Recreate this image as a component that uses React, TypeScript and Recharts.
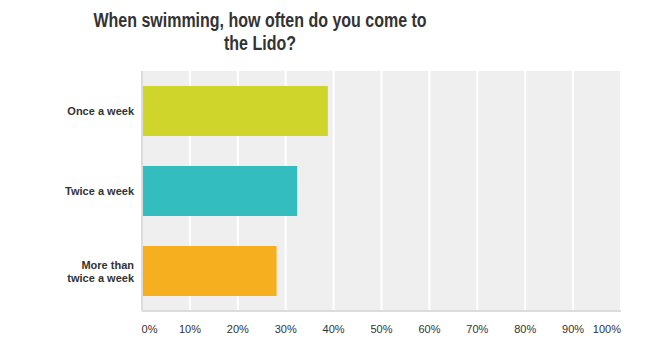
import React from "react"
import { Bar, BarChart, CartesianGrid, Cell, XAxis, YAxis } from "recharts"

const categories = ["Once a week", "Twice a week", "More than\ntwice a week"]
const percentages = [38.8, 32.4, 28.1]
const barColors = ["#cfd52a", "#33bdbe", "#f6b01f"]
const xTicks = [0, 10, 20, 30, 40, 50, 60, 70, 80, 90, 100]

const data = categories.map((name, i) => ({ name, value: percentages[i] }))

const FONT = '"Liberation Sans", Arial, Helvetica, sans-serif'

function XTick({ x, y, payload }: any) {
  const v = payload.value
  const anchor = v === 0 ? "start" : v === 100 ? "end" : "middle"
  const dx = v === 0 ? -0.5 : 0
  return (
    <text x={x + dx} y={y + 14} textAnchor={anchor} fontSize={11} fill="#333" fontFamily={FONT}>
      {v}%
    </text>
  )
}

function YTick({ x, y, payload }: any) {
  const lines = String(payload.value).split("\n")
  const lh = 13
  const start = y + 4 - ((lines.length - 1) * lh) / 2
  return (
    <text x={x} y={start} textAnchor="end" fontSize={11} fontWeight="bold" fill="#333" fontFamily={FONT}>
      {lines.map((l, i) => (
        <tspan key={i} x={x} y={start + i * lh}>
          {l}
        </tspan>
      ))}
    </text>
  )
}

export default function App() {
  return (
    <div style={{ position: "absolute", left: 0, top: 0, width: 650, height: 351, background: "#fff" }}>
      <div
        style={{
          position: "absolute",
          left: 0,
          top: 9,
          width: 520,
          textAlign: "center",
          fontFamily: FONT,
          fontWeight: "bold",
          fontSize: 19.5,
          lineHeight: "23px",
          color: "#333",
          transform: "scaleX(0.82)",
          transformOrigin: "center",
        }}
      >
        When swimming, how often do you come to
        <br />
        the Lido?
      </div>
      <BarChart
        width={650}
        height={351}
        data={data}
        layout="vertical"
        margin={{ top: 71, right: 29, bottom: 0, left: 0 }}
        barCategoryGap={15}
      >
        <CartesianGrid horizontal={false} stroke="#ffffff" strokeWidth={2} fill="#efefef" />
        <XAxis
          type="number"
          domain={[0, 100]}
          ticks={xTicks}
          height={40}
          tickLine={false}
          axisLine={{ stroke: "#dcdcdc", strokeWidth: 2 }}
          tick={<XTick />}
          interval={0}
        />
        <YAxis
          type="category"
          dataKey="name"
          width={142}
          tickLine={false}
          axisLine={{ stroke: "#dcdcdc", strokeWidth: 2 }}
          tick={<YTick />}
          interval={0}
        />
        <Bar dataKey="value" isAnimationActive={false}>
          {data.map((d, i) => (
            <Cell key={d.name} fill={barColors[i]} />
          ))}
        </Bar>
      </BarChart>
    </div>
  )
}
